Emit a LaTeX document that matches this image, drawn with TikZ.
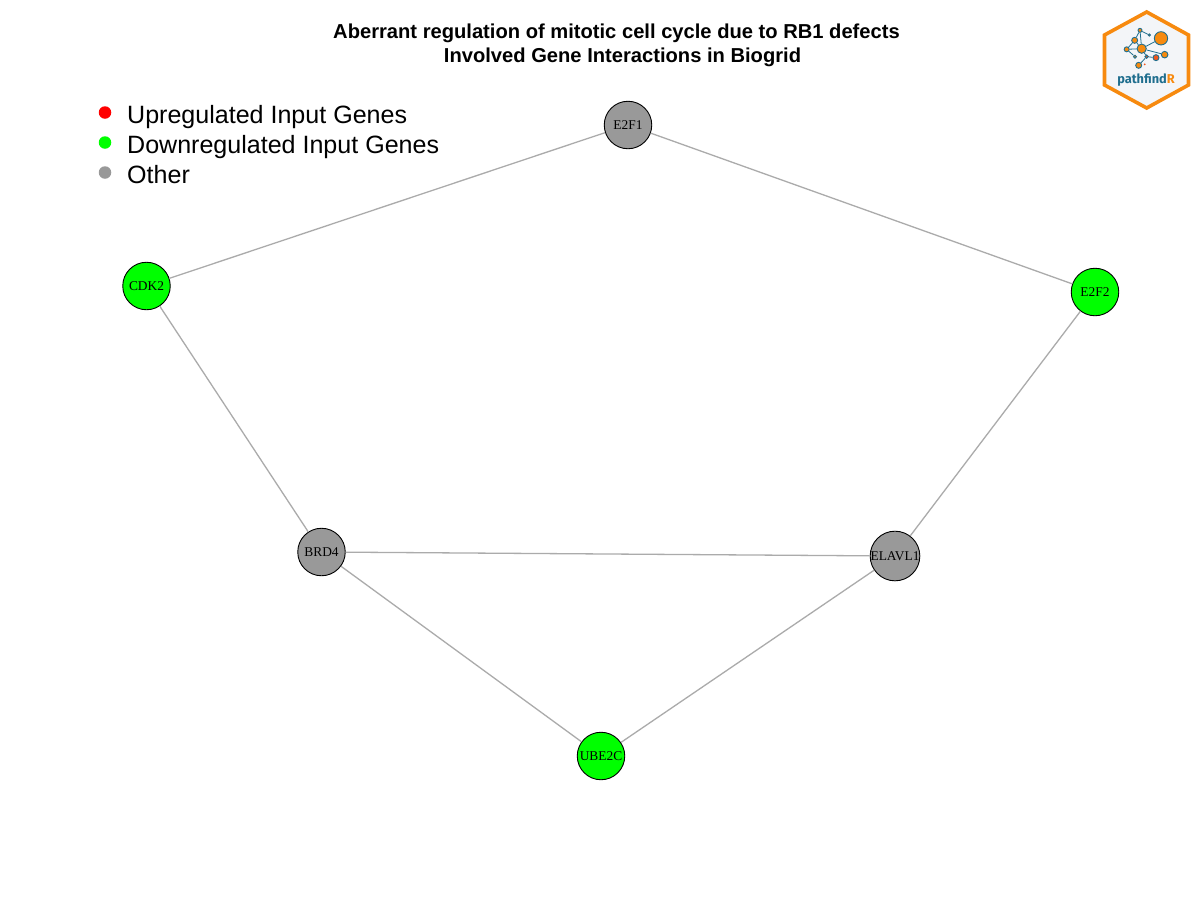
\documentclass[tikz,border=0pt]{standalone}
\usepackage{fontspec}
\setmainfont{Liberation Sans}
\newfontfamily\genefont{Liberation Serif}
\newfontfamily\logofont{Fira Sans}
\definecolor{geneGreen}{HTML}{00FF00}
\definecolor{geneRed}{HTML}{FF0000}
\definecolor{geneGray}{HTML}{999999}
\definecolor{edgeGray}{HTML}{ABABAB}
\definecolor{logoOrange}{HTML}{F78A0F}
\definecolor{logoBlue}{HTML}{1F6E8E}
\definecolor{logoRed}{HTML}{F0561D}
\definecolor{logoBg}{HTML}{F3F5F8}
\tikzset{
  gene/.style={circle,draw=black,line width=0.9pt,minimum size=47.5pt,inner sep=0pt,font=\genefont\fontsize{13.4}{15}\selectfont,text=black},
  upgene/.style={gene,fill=geneGreen},
  othergene/.style={gene,fill=geneGray},
  edgeline/.style={draw=edgeGray,line width=1.3pt},
  legdot/.style={circle,inner sep=0pt,minimum size=12.5pt},
  legtext/.style={anchor=base west,inner sep=0pt,font=\fontsize{25.05}{28}\selectfont},
  titletext/.style={anchor=base,inner sep=0pt,font=\bfseries\fontsize{20.15}{24}\selectfont},
  lognode/.style={circle,draw=logoBlue,line width=0.9pt,fill=logoOrange,inner sep=0pt},
  loglink/.style={draw=logoBlue,line width=0.8pt}
}
\begin{document}
\begin{tikzpicture}[x=1pt,y=-1pt]
\useasboundingbox (0,0) rectangle (1200,900);
\fill[white] (0,0) rectangle (1200,900);
% title
\node[titletext] (title1) at (616.5,38) {Aberrant regulation of mitotic cell cycle due to RB1 defects};
\node[titletext] (title2) at (622.5,62) {Involved Gene Interactions in Biogrid};
% legend
\node[legdot,fill=geneRed] (d1) at (105,112.5) {};
\node[legdot,fill=geneGreen] (d2) at (105,142.5) {};
\node[legdot,fill=geneGray] (d3) at (105,172.5) {};
\node[legtext] (l1) at (127,123) {Upregulated Input Genes};
\node[legtext] (l2) at (127,153) {Downregulated Input Genes};
\node[legtext] (l3) at (127,183) {Other};
% genes
\node[othergene] (E2F1) at (628,125) {E2F1};
\node[upgene] (CDK2) at (146.5,286) {CDK2};
\node[upgene] (E2F2) at (1095,292) {E2F2};
\node[othergene] (BRD4) at (321.5,552) {BRD4};
\node[othergene] (ELAVL1) at (895,556) {ELAVL1};
\node[upgene] (UBE2C) at (601,756) {UBE2C};
\draw[edgeline] (E2F1) -- (CDK2);
\draw[edgeline] (E2F1) -- (E2F2);
\draw[edgeline] (CDK2) -- (BRD4);
\draw[edgeline] (E2F2) -- (ELAVL1);
\draw[edgeline] (BRD4) -- (ELAVL1);
\draw[edgeline] (BRD4) -- (UBE2C);
\draw[edgeline] (ELAVL1) -- (UBE2C);
% logo
\draw[logoOrange,fill=logoBg,line width=3.6pt,line join=miter]
 (1146.7,12) -- (1188.5,35) -- (1188.5,85) -- (1146.7,108) -- (1104.5,85) -- (1104.5,35) -- cycle;
\begin{scope}[shift={(1090,0)},x=0.3333pt,y=-0.3333pt]
\node[lognode,minimum size=13.3pt] (a) at (213,115) {};
\node[lognode,minimum size=9.3pt] (b) at (155,146) {};
\node[lognode,minimum size=6pt] (c) at (134,121) {};
\node[lognode,minimum size=4pt] (e) at (150,91) {};
\node[lognode,minimum size=2.2pt] (f) at (178,105) {};
\node[lognode,minimum size=5pt] (g) at (110,148) {};
\node[lognode,minimum size=3pt] (h) at (135,170) {};
\node[lognode,minimum size=3.4pt,fill=logoRed] (i) at (170,170) {};
\node[lognode,minimum size=6pt,fill=logoRed] (j) at (198,173) {};
\node[lognode,minimum size=6.6pt] (k) at (224,164) {};
\node[lognode,minimum size=6pt] (m) at (146,196) {};
\node[circle,fill=logoRed,inner sep=0pt,minimum size=2pt] (n) at (164,193) {};
\draw[loglink] (b) -- (a);
\draw[loglink] (b) -- (c);
\draw[loglink] (c) -- (e);
\draw[loglink] (e) -- (f);
\draw[loglink] (e) -- (b);
\draw[loglink] (b) -- (g);
\draw[loglink] (g) -- (h);
\draw[loglink] (g) -- (c);
\draw[loglink] (b) -- (i);
\draw[loglink] (i) -- (m);
\draw[loglink] (b) -- (k);
\draw[loglink] (i) -- (j);
\node[inner sep=0pt,font=\logofont\fontsize{12.8}{15}\selectfont\bfseries] (logotext) at (168,241) {\textcolor{logoBlue}{pathfind}\textcolor{logoOrange}{R}};
\end{scope}
\end{tikzpicture}
\end{document}
